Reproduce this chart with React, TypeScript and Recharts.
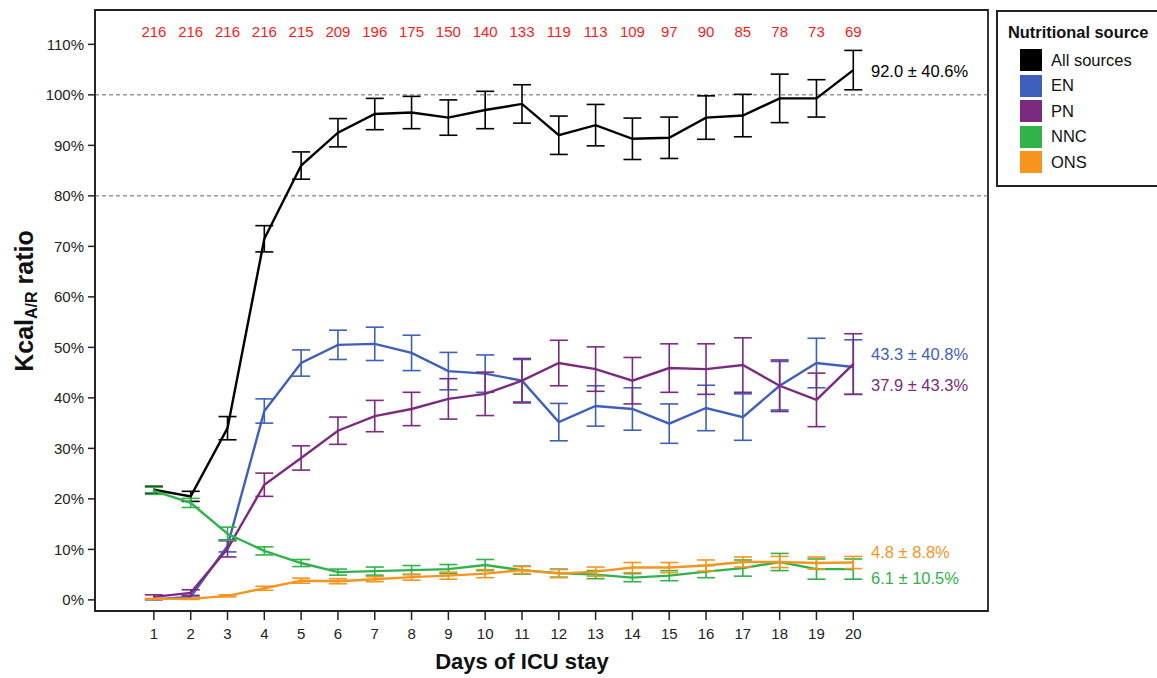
import React from "react";
import {
  ComposedChart,
  Line,
  XAxis,
  YAxis,
  ErrorBar,
  ReferenceLine,
  ReferenceArea,
} from "recharts";

const days = [1, 2, 3, 4, 5, 6, 7, 8, 9, 10, 11, 12, 13, 14, 15, 16, 17, 18, 19, 20];
const nPatients = [216, 216, 216, 216, 215, 209, 196, 175, 150, 140, 133, 119, 113, 109, 97, 90, 85, 78, 73, 69];
const yTicks = [0, 10, 20, 30, 40, 50, 60, 70, 80, 90, 100, 110];

const allMean = [21.8, 20.5, 34, 71.5, 86, 92.5, 96.2, 96.5, 95.5, 97, 98.2, 92, 94, 91.3, 91.5, 95.5, 95.9, 99.3, 99.3, 104.9];
const allErr = [0.7, 1, 2.3, 2.6, 2.7, 2.8, 3.1, 3.2, 3.5, 3.7, 3.8, 3.8, 4.1, 4.1, 4.1, 4.3, 4.2, 4.8, 3.7, 3.9];

const enMean = [0.1, 0.6, 10.7, 37.4, 46.9, 50.5, 50.7, 48.9, 45.3, 44.8, 43.4, 35.2, 38.4, 37.8, 34.9, 38, 36.2, 42.4, 46.9, 46.1];
const enErr = [0.1, 0.3, 1.2, 2.4, 2.6, 2.9, 3.3, 3.5, 3.7, 3.7, 4.2, 3.7, 4, 4.2, 3.9, 4.5, 4.6, 4.8, 4.9, 5.4];

const pnMean = [0.6, 1.4, 10.1, 22.8, 28.1, 33.5, 36.4, 37.8, 39.8, 40.8, 43.4, 46.9, 45.7, 43.4, 45.9, 45.7, 46.5, 42.4, 39.6, 46.7];
const pnErr = [0.4, 0.6, 1.6, 2.3, 2.4, 2.7, 3.1, 3.3, 4, 4.3, 4.4, 4.5, 4.4, 4.6, 4.8, 5, 5.4, 5.1, 5.3, 6];

const nncMean = [21.6, 19.2, 13.1, 9.7, 7.3, 5.5, 5.7, 5.9, 6.1, 6.9, 5.9, 5.3, 5, 4.4, 4.8, 5.6, 6.3, 7.5, 6.1, 6.1];
const nncErr = [0.7, 0.9, 1.3, 0.8, 0.7, 0.6, 0.8, 0.9, 0.9, 1.1, 0.8, 0.8, 0.8, 0.8, 1, 1.2, 1.6, 1.7, 2, 2];

const onsMean = [0.2, 0.2, 0.8, 2.3, 3.8, 3.7, 4.1, 4.5, 4.8, 5.2, 5.9, 5.2, 5.6, 6.4, 6.4, 6.8, 7.5, 7.5, 7.3, 7.4];
const onsErr = [0.1, 0.1, 0.2, 0.4, 0.5, 0.5, 0.5, 0.6, 0.7, 0.8, 0.7, 0.8, 0.9, 1, 1, 1.1, 1, 1.1, 1.2, 1.2];

const seriesNames = ["All sources", "EN", "PN", "NNC", "ONS"];
const seriesColors = ["#000000", "#3f5fbd", "#7b2a80", "#2fb34a", "#f7941d"];
const endLabels = ["92.0 ± 40.6%", "43.3 ± 40.8%", "37.9 ± 43.3%", "6.1 ± 10.5%", "4.8 ± 8.8%"];

const data = days.map((d, i) => ({
  day: d,
  all: allMean[i],
  allErr: allErr[i],
  en: enMean[i],
  enErr: enErr[i],
  pn: pnMean[i],
  pnErr: pnErr[i],
  nnc: nncMean[i],
  nncErr: nncErr[i],
  ons: onsMean[i],
  onsErr: onsErr[i],
}));

const FONT = "'Liberation Sans', Arial, Helvetica, sans-serif";

const XTick = (props: any) => {
  const { x, y, payload } = props;
  const idx = days.indexOf(payload.value);
  return (
    <g>
      <text x={x} y={y} dy="0.71em" textAnchor="middle" fontSize={15} fill="#222" fontFamily={FONT}>
        {payload.value}
      </text>
      <text x={x} y={37} textAnchor="middle" fontSize={15} fill="#ff1a1a" fontFamily={FONT}>
        {idx >= 0 ? nPatients[idx] : ""}
      </text>
    </g>
  );
};

const YTitle = () => (
  <text
    transform="translate(33,301) rotate(-90)"
    textAnchor="middle"
    fontSize={25}
    fontWeight="bold"
    fill="#111"
    fontFamily={FONT}
  >
    Kcal
    <tspan fontSize={16} dy={4}>A/R</tspan>
    <tspan dy={-4}> ratio</tspan>
  </text>
);

const XTitle = () => (
  <text x={522} y={669} textAnchor="middle" fontSize={22} fontWeight="bold" fill="#111" fontFamily={FONT}>
    Days of ICU stay
  </text>
);

const labelPos = [
  { left: 871, top: 71 },
  { left: 871, top: 354 },
  { left: 871, top: 385 },
  { left: 871, top: 578 },
  { left: 871, top: 552 },
];

export default function App() {
  const keys = ["all", "en", "pn", "nnc", "ons"];
  return (
    <div style={{ position: "absolute", left: 0, top: 0, width: 1157, height: 678, background: "#fff", fontFamily: FONT }}>
      <ComposedChart
        width={1157}
        height={678}
        data={data}
        margin={{ top: 10, right: 169, bottom: 0, left: 0 }}
      >
        <XAxis
          dataKey="day"
          type="number"
          domain={[-0.6, 23.66]}
          ticks={days}
          allowDataOverflow
          height={67}
          tickSize={9}
          tickMargin={8}
          stroke="#222"
          strokeWidth={1.5}
          tick={<XTick />}
          label={<XTitle />}
        />
        <YAxis
          type="number"
          domain={[-2.2, 116.8]}
          ticks={yTicks}
          allowDataOverflow
          width={95}
          tickSize={7}
          tickMargin={4}
          stroke="#222"
          strokeWidth={1.5}
          tick={{ fontSize: 15, fill: "#222", fontFamily: FONT }}
          tickFormatter={(v: number) => `${v}%`}
          label={<YTitle />}
        />
        <ReferenceArea
          x1={-0.6}
          x2={23.66}
          y1={-2.2}
          y2={116.8}
          fill="none"
          stroke="#222"
          strokeWidth={1.8}
          ifOverflow="visible"
        />
        <ReferenceLine y={80} stroke="#666" strokeDasharray="4 3" strokeWidth={1} />
        <ReferenceLine y={100} stroke="#666" strokeDasharray="4 3" strokeWidth={1} />
        {keys.map((k, i) => (
          <Line
            key={k}
            dataKey={k}
            type="linear"
            stroke={seriesColors[i]}
            strokeWidth={2.4}
            dot={false}
            activeDot={false}
            isAnimationActive={false}
          >
            <ErrorBar
              dataKey={`${k}Err`}
              direction="y"
              width={9}
              stroke={seriesColors[i]}
              strokeWidth={1.6}
              isAnimationActive={false}
            />
          </Line>
        ))}
      </ComposedChart>
      {endLabels.map((t, i) => (
        <div
          key={t}
          style={{
            position: "absolute",
            left: labelPos[i].left,
            top: labelPos[i].top - 10,
            fontSize: 16.5,
            lineHeight: "20px",
            color: seriesColors[i],
            whiteSpace: "nowrap",
          }}
        >
          {t}
        </div>
      ))}
      <div
        style={{
          position: "absolute",
          left: 996,
          top: 10,
          width: 170,
          height: 173,
          border: "2px solid #222",
          background: "#fff",
        }}
      >
        <div style={{ position: "absolute", left: 10, top: 9, fontSize: 16.4, fontWeight: "bold", lineHeight: "22px", whiteSpace: "nowrap", color: "#111" }}>
          Nutritional source
        </div>
        {seriesNames.map((n, i) => (
          <div
            key={n}
            style={{ position: "absolute", left: 22, top: 37 + i * 25.6, height: 22, display: "flex", alignItems: "center" }}
          >
            <div style={{ width: 22, height: 22, background: seriesColors[i] }} />
            <div style={{ marginLeft: 9, fontSize: 16.5, color: "#111", whiteSpace: "nowrap" }}>{n}</div>
          </div>
        ))}
      </div>
    </div>
  );
}
